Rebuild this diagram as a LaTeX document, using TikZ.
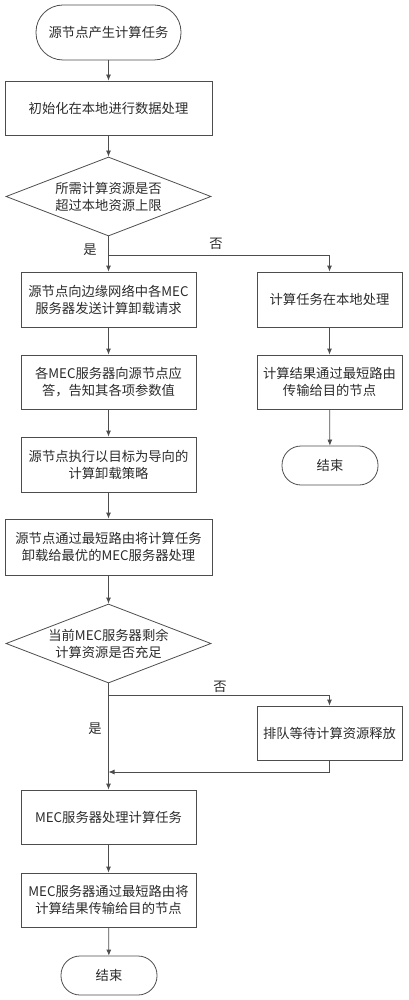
\documentclass[tikz,border=0pt]{standalone}
\usepackage{fontspec}
\usepackage{tikz}
\usetikzlibrary{shapes.geometric,arrows.meta}
\newfontfamily\cjk{Noto Sans CJK SC}
\definecolor{linegray}{HTML}{4D4D4D}
\definecolor{textgray}{HTML}{2B2B2B}

\tikzset{
  base/.style={draw=linegray, line width=0.8pt, text=textgray,
    font=\cjk\fontsize{13.3}{17}\selectfont, align=center, inner sep=0pt},
  term/.style={base, rectangle, rounded corners=19pt, minimum height=39pt},
  proc/.style={base, rectangle, minimum height=55pt},
  decide/.style={base, diamond, aspect=2.6, minimum width=205pt, minimum height=79pt},
  arr/.style={draw=linegray, line width=0.8pt, -{Latex[length=6pt,width=5pt]}},
  lbl/.style={font=\cjk\fontsize{13.3}{15}\selectfont, text=textgray}
}

\begin{document}
\begin{tikzpicture}[x=1pt, y=-1pt]
  \useasboundingbox (0,0) rectangle (409,1000);

  % main column
  \node[term, minimum width=145pt, minimum height=55pt, rounded corners=27pt] (start) at (108.5,32.5) {源节点产生计算任务};
  \node[proc, minimum width=207pt, minimum height=54pt] (init) at (108.5,108) {初始化在本地进行数据处理};
  \node[decide] (check) at (108.5,196.5) {所需计算资源是否\\超过本地资源上限};
  \node[proc, minimum width=175pt] (request) at (108.5,299.5) {源节点向边缘网络中各MEC\\服务器发送计算卸载请求};
  \node[proc, minimum width=175pt, minimum height=54pt] (reply) at (108.5,382) {各MEC服务器向源节点应\\答，告知其各项参数值};
  \node[proc, minimum width=175pt] (policy) at (108.5,464.5) {源节点执行以目标为导向的\\计算卸载策略};
  \node[proc, minimum width=207pt, minimum height=56pt] (offload) at (108.5,547) {源节点通过最短路由将计算任务\\卸载给最优的MEC服务器处理};
  \node[decide] (enough) at (108.5,643.5) {当前MEC服务器剩余\\计算资源是否充足};
  \node[proc, minimum width=175pt, minimum height=54pt] (process) at (108.5,817) {MEC服务器处理计算任务};
  \node[proc, minimum width=175pt, minimum height=54pt] (send) at (108.5,900) {MEC服务器通过最短路由将\\计算结果传输给目的节点};
  \node[term, minimum width=96pt] (endmec) at (109,975.5) {结束};

  % right column
  \node[proc, minimum width=145pt] (local) at (329.5,299.5) {计算任务在本地处理};
  \node[proc, minimum width=145pt, minimum height=54pt] (result) at (329.5,382) {计算结果通过最短路由\\传输给目的节点};
  \node[term, minimum width=96pt] (endlocal) at (330,465.5) {结束};
  \node[proc, minimum width=145pt, minimum height=54pt] (queue) at (329.5,733) {排队等待计算资源释放};

  \coordinate (fork1) at (108.5,255);
  \coordinate (fork2) at (108.5,695);
  \coordinate (join) at (108.5,772);

  % labels
  \node[lbl] (yes1) at (90,250) {是};
  \node[lbl] (no1) at (216,244) {否};
  \node[lbl] (no2) at (220,687) {否};
  \node[lbl] (yes2) at (95,729) {是};

  % connectors
  \draw[arr] (start) -- (init);
  \draw[arr] (init) -- (check);
  \draw[arr] (check) -- (request);
  \draw[arr] (fork1) -| (local);
  \draw[arr] (local) -- (result);
  \draw[arr] (result) -- (endlocal);
  \draw[arr] (request) -- (reply);
  \draw[arr] (reply) -- (policy);
  \draw[arr] (policy) -- (offload);
  \draw[arr] (offload) -- (enough);
  \draw[arr] (enough) -- (process);
  \draw[arr] (fork2) -| (queue);
  \draw[arr] (queue.south) |- (join);
  \draw[arr] (process) -- (send);
  \draw[arr] (send) -- (endmec);
\end{tikzpicture}
\end{document}
